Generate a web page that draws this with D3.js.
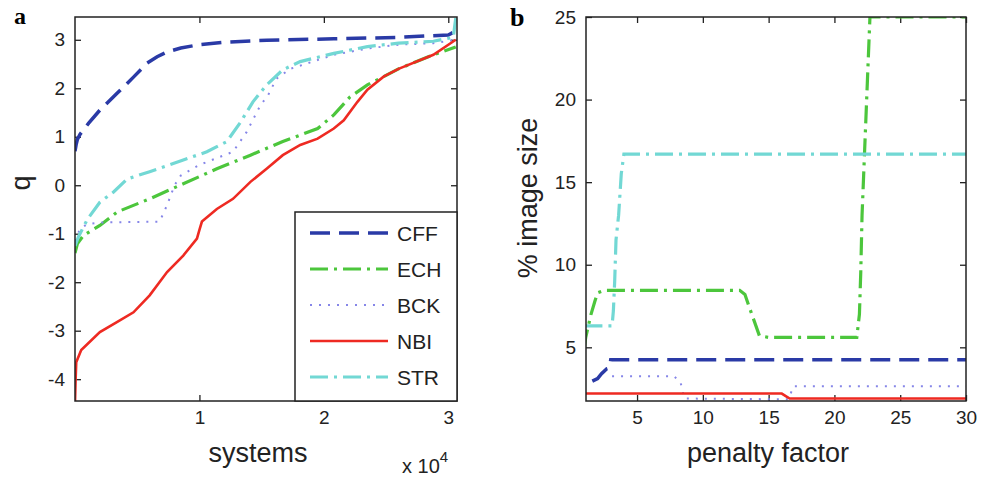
<!DOCTYPE html>
<html>
<head>
<meta charset="utf-8">
<script src="https://cdn.jsdelivr.net/npm/d3@7"></script>
<style>
  body { margin: 0; background: #fff; }
  svg { display: block; font-family: "Liberation Sans", Arial, sans-serif; }
  .tick text { font-size: 19px; fill: #222; }
  .tick line { stroke: #222; stroke-width: 1.3; }
</style>
</head>
<body>
<div id="chart"></div>
<script>
// datos panel a: systems (x 10^4) vs q
var sysCFF = [0, 0.01, 0.02, 0.04, 0.11, 0.2, 0.34, 0.47, 0.58, 0.66, 0.74, 0.85, 1.0, 1.2, 1.54, 2.08, 2.6, 3.0, 3.06];
var qCFF   = [0.7, 0.85, 0.95, 1.05, 1.28, 1.55, 1.9, 2.23, 2.52, 2.65, 2.75, 2.83, 2.9, 2.95, 2.99, 3.02, 3.05, 3.1, 3.18];
var sysECH = [0, 0.02, 0.07, 0.2, 0.34, 0.6, 0.87, 1.14, 1.41, 1.67, 1.95, 2.08, 2.21, 2.35, 2.48, 2.6, 2.88, 3.06];
var qECH   = [-1.4, -1.2, -1.03, -0.83, -0.55, -0.28, 0.03, 0.34, 0.62, 0.9, 1.17, 1.45, 1.82, 2.07, 2.24, 2.4, 2.69, 2.85];
var sysBCK = [0, 0.04, 0.1, 0.2, 0.4, 0.68, 0.74, 0.8, 0.85, 1.0, 1.27, 1.38, 1.49, 1.55, 1.62, 1.73, 2.08, 2.35, 2.6, 2.88, 3.06];
var qBCK   = [-1.15, -0.9, -0.8, -0.77, -0.76, -0.75, -0.41, 0.0, 0.2, 0.42, 0.69, 1.1, 1.65, 1.85, 2.2, 2.4, 2.69, 2.82, 2.9, 2.93, 3.0];
var sysNBI = [0, 0.005, 0.01, 0.05, 0.2, 0.34, 0.47, 0.6, 0.74, 0.87, 0.98, 1.0, 1.02, 1.14, 1.27, 1.41, 1.54, 1.67, 1.81, 1.95, 2.08, 2.16, 2.27, 2.35, 2.48, 2.6, 2.88, 3.06];
var qNBI   = [-4.5, -4.0, -3.65, -3.4, -3.03, -2.82, -2.62, -2.27, -1.79, -1.45, -1.1, -0.92, -0.75, -0.49, -0.28, 0.07, 0.34, 0.62, 0.83, 0.96, 1.17, 1.34, 1.72, 1.97, 2.24, 2.4, 2.69, 3.0];
var sysSTR = [0, 0.03, 0.1, 0.2, 0.31, 0.42, 0.6, 0.87, 1.06, 1.22, 1.33, 1.43, 1.54, 1.67, 1.81, 2.08, 2.35, 2.6, 2.88, 3.04, 3.06];
var qSTR   = [-1.25, -1.05, -0.7, -0.35, -0.14, 0.13, 0.28, 0.52, 0.69, 0.9, 1.3, 1.72, 2.07, 2.38, 2.55, 2.72, 2.86, 2.93, 2.97, 3.05, 3.45];

// datos panel b: penalty factor vs % image size
var pfCFF = [1.6, 2.0, 2.3, 2.7, 2.9, 3.0, 30];
var szCFF = [2.95, 3.1, 3.4, 3.7, 3.75, 4.25, 4.25];
var pfECH = [1, 1.1, 1.3, 1.5, 1.8, 2.0, 2.5, 12.8, 13.2, 13.5, 13.9, 14.3, 15, 21.7, 21.9, 22.0, 22.1, 22.3, 22.5, 22.7, 30];
var szECH = [5.0, 5.6, 6.3, 7.0, 7.8, 8.3, 8.45, 8.45, 8.2, 7.5, 6.6, 5.7, 5.6, 5.6, 7, 9.5, 13, 17, 21, 25, 25];
var pfBCK = [3.1, 7.8, 8.3, 8.6, 16.5, 16.9, 30];
var szBCK = [3.25, 3.25, 2.9, 1.9, 1.85, 2.65, 2.65];
var pfNBI = [1, 16.0, 16.3, 16.6, 30];
var szNBI = [2.2, 2.2, 2.05, 1.9, 1.9];
var pfSTR = [1, 3.1, 3.2, 3.3, 3.4, 3.6, 3.8, 4.0, 30];
var szSTR = [6.3, 6.3, 7.2, 9, 11.5, 13, 15.5, 16.7, 16.7];

var names = ["CFF", "ECH", "BCK", "NBI", "STR"];
var ticksAX = [1, 2, 3];
var ticksAY = [-4, -3, -2, -1, 0, 1, 2, 3];
var ticksBX = [5, 10, 15, 20, 25, 30];
var ticksBY = [5, 10, 15, 20, 25];

// estilos de linea
var estilos = {
  CFF: { color: "#2a3aa6", width: 3.5, dash: "20,9" },
  ECH: { color: "#4cc63c", width: 3.2, dash: "18,6,3,6" },
  BCK: { color: "#8686e8", width: 2, dash: "2,7" },
  NBI: { color: "#ee2a22", width: 2.6, dash: null },
  STR: { color: "#72d8d4", width: 3.2, dash: "18,6,3,6" }
};

var width = 989, height = 477;
var svg = d3.select("#chart").append("svg")
    .attr("width", width)
    .attr("height", height);

// etiquetas con guion normal, como matlab
var fmt = function(d) { return String(d); };

function zip(xs, ys) {
  return xs.map(function(x, i) { return [x, ys[i]]; });
}

function panel(id, box, x, y, series, tx, ty) {
  var g = svg.append("g");

  g.append("clipPath").attr("id", "clip-" + id)
    .append("rect")
    .attr("x", box.left).attr("y", box.top)
    .attr("width", box.right - box.left).attr("height", box.bottom - box.top);

  // ejes con ticks hacia dentro (estilo matlab)
  g.append("g").attr("transform", "translate(0," + box.bottom + ")")
    .call(d3.axisBottom(x).tickValues(tx).tickSize(-6).tickPadding(10).tickFormat(fmt))
    .call(function(a) { a.select(".domain").remove(); });
  g.append("g").attr("transform", "translate(0," + box.top + ")")
    .call(d3.axisTop(x).tickValues(tx).tickSize(-6).tickFormat(""))
    .call(function(a) { a.select(".domain").remove(); });
  g.append("g").attr("transform", "translate(" + box.left + ",0)")
    .call(d3.axisLeft(y).tickValues(ty).tickSize(-6).tickPadding(10).tickFormat(fmt))
    .call(function(a) { a.select(".domain").remove(); });
  g.append("g").attr("transform", "translate(" + box.right + ",0)")
    .call(d3.axisRight(y).tickValues(ty).tickSize(-6).tickFormat(""))
    .call(function(a) { a.select(".domain").remove(); });

  var line = d3.line()
    .x(function(d) { return x(d[0]); })
    .y(function(d) { return y(d[1]); });

  var lines = g.append("g").attr("clip-path", "url(#clip-" + id + ")");
  series.forEach(function(s) {
    var st = estilos[s.name];
    lines.append("path")
      .datum(s.data)
      .attr("fill", "none")
      .attr("stroke", st.color)
      .attr("stroke-width", st.width)
      .attr("stroke-dasharray", st.dash)
      .attr("d", line);
  });

  g.append("rect")
    .attr("x", box.left).attr("y", box.top)
    .attr("width", box.right - box.left).attr("height", box.bottom - box.top)
    .attr("fill", "none").attr("stroke", "#222").attr("stroke-width", 1.5);
  return g;
}

// PANEL A
var boxA = { left: 75, right: 457, top: 17, bottom: 401 };
var xA = d3.scaleLinear().domain([0, 3.07]).range([boxA.left, boxA.right]);
var yA = d3.scaleLinear().domain([-4.45, 3.47]).range([boxA.bottom, boxA.top]);
var seriesA = [
  { name: "CFF", data: zip(sysCFF, qCFF) },
  { name: "ECH", data: zip(sysECH, qECH) },
  { name: "BCK", data: zip(sysBCK, qBCK) },
  { name: "NBI", data: zip(sysNBI, qNBI) },
  { name: "STR", data: zip(sysSTR, qSTR) }
];
var gA = panel("a", boxA, xA, yA, seriesA, ticksAX, ticksAY);

// leyenda
var leg = gA.append("g");
leg.append("rect")
  .attr("x", 295).attr("y", 212)
  .attr("width", boxA.right - 295).attr("height", boxA.bottom - 212)
  .attr("fill", "#fff").attr("stroke", "#222").attr("stroke-width", 1.5);
names.forEach(function(n, i) {
  var st = estilos[n];
  var ly = 233 + i * 36;
  leg.append("line")
    .attr("x1", 310).attr("x2", 388).attr("y1", ly).attr("y2", ly)
    .attr("stroke", st.color).attr("stroke-width", st.width)
    .attr("stroke-dasharray", st.dash);
  leg.append("text")
    .attr("x", 397).attr("y", ly + 7.5)
    .attr("font-size", 21).attr("fill", "#222")
    .text(n);
});

svg.append("text").attr("x", 14).attr("y", 24)
  .attr("font-family", "Liberation Serif, serif").attr("font-weight", "bold")
  .attr("font-size", 24).text("a");
svg.append("text")
  .attr("transform", "translate(30,183) rotate(-90)")
  .attr("text-anchor", "middle").attr("font-size", 27).attr("fill", "#222")
  .text("q");
svg.append("text").attr("x", 258).attr("y", 462)
  .attr("text-anchor", "middle").attr("font-size", 27).attr("fill", "#222")
  .text("systems");
var exp = svg.append("text").attr("x", 402).attr("y", 473)
  .attr("font-size", 20).attr("fill", "#222");
exp.append("tspan").text("x 10");
exp.append("tspan").attr("dy", -11).attr("font-size", 15).text("4");

// PANEL B
var boxB = { left: 586, right: 966, top: 17, bottom: 401 };
var xB = d3.scaleLinear().domain([1.12, 30]).range([boxB.left, boxB.right]);
var yB = d3.scaleLinear().domain([1.75, 25]).range([boxB.bottom, boxB.top]);
var seriesB = [
  { name: "CFF", data: zip(pfCFF, szCFF) },
  { name: "ECH", data: zip(pfECH, szECH) },
  { name: "BCK", data: zip(pfBCK, szBCK) },
  { name: "NBI", data: zip(pfNBI, szNBI) },
  { name: "STR", data: zip(pfSTR, szSTR) }
];
panel("b", boxB, xB, yB, seriesB, ticksBX, ticksBY);

svg.append("text").attr("x", 510).attr("y", 26)
  .attr("font-family", "Liberation Serif, serif").attr("font-weight", "bold")
  .attr("font-size", 26).text("b");
svg.append("text")
  .attr("transform", "translate(537,198) rotate(-90)")
  .attr("text-anchor", "middle").attr("font-size", 27).attr("fill", "#222")
  .text("% image size");
svg.append("text").attr("x", 768).attr("y", 462)
  .attr("text-anchor", "middle").attr("font-size", 27).attr("fill", "#222")
  .text("penalty factor");
</script>
</body>
</html>
